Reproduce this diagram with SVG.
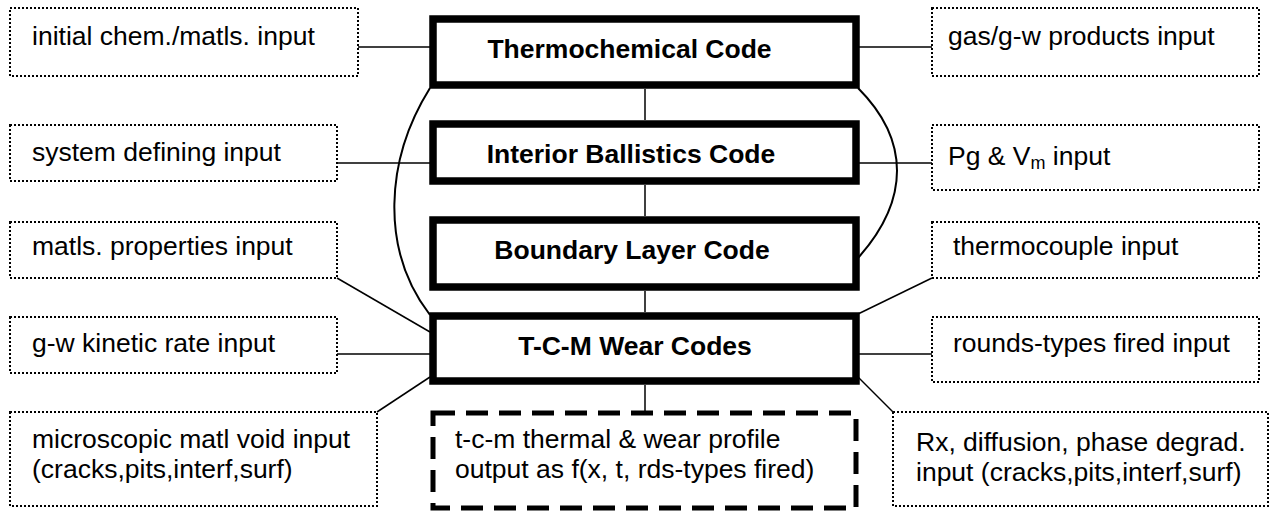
<svg xmlns="http://www.w3.org/2000/svg" width="1272" height="511" viewBox="0 0 1272 511">
<style>
  .inp { fill: #fff; stroke: #000; stroke-width: 2; stroke-dasharray: 2 2; }
  .code { fill: #fff; stroke: #000; stroke-width: 7.5; }
  .out { fill: #fff; stroke: #000; stroke-width: 5; stroke-dasharray: 22 11; }
  .t { font-family: "Liberation Sans", Arial, sans-serif; font-size: 26.5px; fill: #000; }
  .b { font-family: "Liberation Sans", Arial, sans-serif; font-size: 26.5px; font-weight: bold; fill: #000; }
  .c { fill: none; stroke: #000; stroke-width: 1.5; }
  .cv { fill: none; stroke: #000; stroke-width: 2; }
</style>
<rect width="1272" height="511" fill="#fff"/>
<g id="connectors">
  <line class="c" x1="358" y1="47" x2="430" y2="47"/>
  <line class="c" x1="337" y1="163" x2="430" y2="163"/>
  <line class="c" x1="337" y1="278" x2="430" y2="332"/>
  <line class="c" x1="337" y1="354" x2="430" y2="354"/>
  <line class="c" x1="377" y1="412" x2="430" y2="377"/>
  <line class="c" x1="858" y1="47" x2="932" y2="47"/>
  <line class="c" x1="858" y1="163" x2="932" y2="163"/>
  <line class="c" x1="932" y1="278" x2="858" y2="314"/>
  <line class="c" x1="858" y1="354" x2="932" y2="354"/>
  <line class="c" x1="893" y1="412" x2="858" y2="377"/>
  <line class="c" x1="645" y1="89" x2="645" y2="120"/>
  <line class="c" x1="645" y1="185" x2="645" y2="216"/>
  <line class="c" x1="645" y1="291" x2="645" y2="312"/>
  <line class="c" x1="645" y1="385" x2="645" y2="412"/>
  <path class="cv" d="M 430 88 C 385 160, 380 250, 430 315"/>
  <path class="cv" d="M 858 88 C 910 140, 910 200, 858 258"/>
</g>
<g id="n-initial">
  <rect class="inp" x="10" y="8" width="348" height="68"/>
  <text class="t" x="32" y="45">initial chem./matls. input</text>
</g>
<g id="n-system">
  <rect class="inp" x="10" y="125" width="327" height="56"/>
  <text class="t" x="32" y="161">system defining input</text>
</g>
<g id="n-matls">
  <rect class="inp" x="10" y="222" width="327" height="56"/>
  <text class="t" x="32" y="255">matls. properties input</text>
</g>
<g id="n-gw">
  <rect class="inp" x="10" y="317" width="327" height="56"/>
  <text class="t" x="32" y="352">g-w kinetic rate input</text>
</g>
<g id="n-micro">
  <rect class="inp" x="10" y="412" width="367" height="94"/>
  <text class="t" x="32" y="448">microscopic matl void input</text>
  <text class="t" x="32" y="478">(cracks,pits,interf,surf)</text>
</g>
<g id="n-gas">
  <rect class="inp" x="932" y="8" width="327" height="68"/>
  <text class="t" x="948" y="45">gas/g-w products input</text>
</g>
<g id="n-pg">
  <rect class="inp" x="932" y="125" width="327" height="65"/>
  <text class="t" x="948" y="165">Pg &amp; V<tspan font-size="18" dy="4">m</tspan><tspan dy="-4"> input</tspan></text>
</g>
<g id="n-thermo">
  <rect class="inp" x="932" y="222" width="327" height="56"/>
  <text class="t" x="953" y="255">thermocouple input</text>
</g>
<g id="n-rounds">
  <rect class="inp" x="932" y="317" width="327" height="65"/>
  <text class="t" x="953" y="352">rounds-types fired input</text>
</g>
<g id="n-rx">
  <rect class="inp" x="893" y="412" width="375" height="94"/>
  <text class="t" x="916" y="451">Rx, diffusion, phase degrad.</text>
  <text class="t" x="916" y="481">input (cracks,pits,interf,surf)</text>
</g>
<g id="n-thermochem">
  <rect class="code" x="433" y="19" width="423" height="66"/>
  <text class="b" x="629.5" y="58" text-anchor="middle">Thermochemical Code</text>
</g>
<g id="n-interior">
  <rect class="code" x="433" y="124" width="423" height="57"/>
  <text class="b" x="631" y="163" text-anchor="middle">Interior Ballistics Code</text>
</g>
<g id="n-boundary">
  <rect class="code" x="433" y="220" width="423" height="67"/>
  <text class="b" x="632" y="259" text-anchor="middle">Boundary Layer Code</text>
</g>
<g id="n-tcm">
  <rect class="code" x="433" y="316" width="423" height="65"/>
  <text class="b" x="635" y="355" text-anchor="middle">T-C-M Wear Codes</text>
</g>
<g id="n-output">
  <rect class="out" x="433" y="413" width="423" height="95"/>
  <text class="t" x="455" y="448">t-c-m thermal &amp; wear profile</text>
  <text class="t" x="455" y="478">output as f(x, t, rds-types fired)</text>
</g>
</svg>
